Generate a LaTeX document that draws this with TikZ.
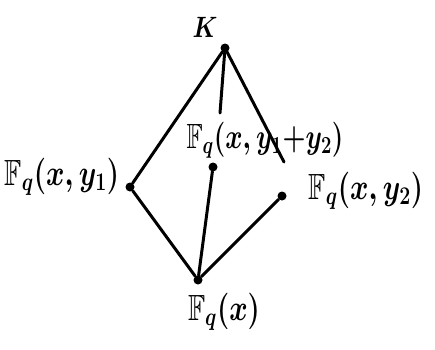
\documentclass[tikz,border=0pt]{standalone}
\usepackage{fix-cm}
\usepackage{graphicx}
\usepackage{amssymb}
\usepackage{amsmath}
\newcommand{\fld}[1]{\scalebox{1}[1.3]{$#1$}}
\begin{document}
\begin{tikzpicture}[x=1pt,y=1pt,
  field/.style={inner sep=1pt,font=\fontsize{28}{32}\selectfont\boldmath},
  dot/.style={circle,fill=black,inner sep=0pt,minimum size=9pt},
  link/.style={line width=3pt,line cap=round}]
\useasboundingbox (0,0) rectangle (435,349);
% dots
\node[dot] (K) at (225,301) {};
\node[dot] (L) at (130,162) {};
\node[dot] (M) at (213,182) {};
\node[dot] (R) at (282,153) {};
\node[dot] (B) at (198,69) {};
% labels
\node[field] (Klab) at (205,322) {\scalebox{0.85}[1.05]{$K$}};
\node[field] (Llab) at (62,172) {\fld{\mathbb{F}_q(x,y_1)}};
\node[field] (Mlab) at (265,209) {\scalebox{0.94}[1.25]{$\mathbb{F}_q(x,y_1{+}y_2)$}};
\node[field] (Rlab) at (366,158) {\fld{\mathbb{F}_q(x,y_2)}};
\node[field] (Blab) at (224,37) {\fld{\mathbb{F}_q(x)}};
% free ends
\coordinate (Mtop) at (220,236);
\coordinate (Rtop) at (284,187);
% connectors
\draw[link] (K) -- (L);
\draw[link] (K) -- (Mtop);
\draw[link] (K) -- (Rtop);
\draw[link] (L) -- (B);
\draw[link] (M) -- (B);
\draw[link] (R) -- (B);
\end{tikzpicture}
\end{document}
